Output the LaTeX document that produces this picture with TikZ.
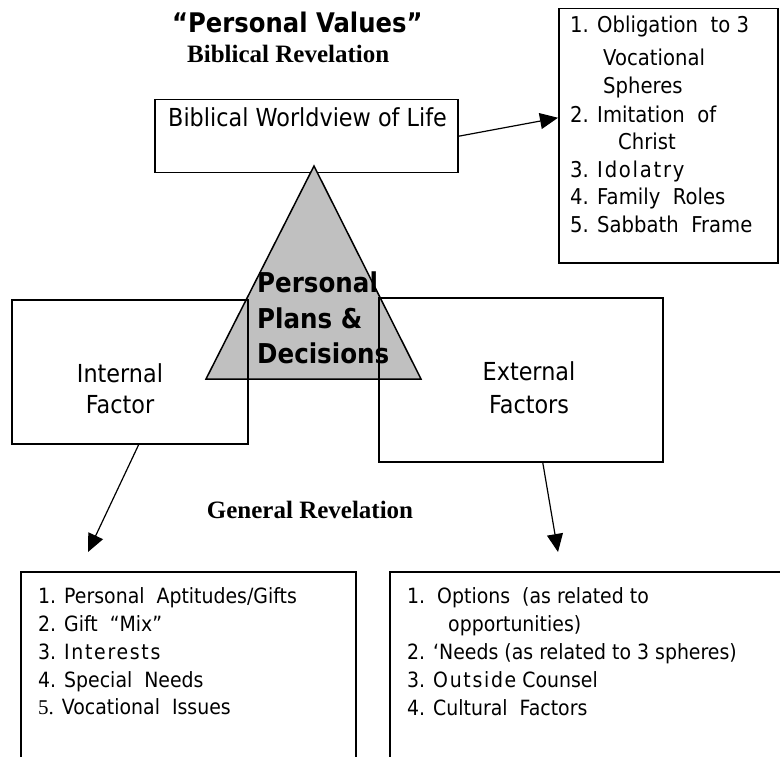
\documentclass[tikz,border=0pt]{standalone}
\usepackage{fontspec}
\setmainfont{DejaVu Sans}[FakeStretch=0.9]
\newfontfamily\serifb{Liberation Serif}
\newfontfamily\spaced{DejaVu Sans}[FakeStretch=0.9, LetterSpace=8]
\usetikzlibrary{arrows.meta}
\definecolor{trigray}{HTML}{C0C0C0}
\begin{document}
\begin{tikzpicture}[x=1pt,y=-1pt,
  box/.style={draw, line width=1.5pt, inner sep=0pt, anchor=north west},
  ln/.style={anchor=base west, inner sep=0pt, font=\fontsize{21}{25}\selectfont},
  lnt/.style={anchor=base west, inner sep=0pt, font=\fontsize{21.8}{25}\selectfont},
  big/.style={inner sep=0pt, font=\fontsize{24.8}{30}\selectfont},
  tri/.style={anchor=base west, inner sep=0pt, font=\bfseries\fontsize{27.3}{34}\selectfont},
  rev/.style={inner sep=0pt, font=\serifb\bfseries\fontsize{25}{30}\selectfont},
  arr/.style={line width=1.2pt, -{Triangle[length=18pt,width=16pt]}}]
\useasboundingbox (0,0) rectangle (780,757);
% title
\node[anchor=base west, inner sep=0pt, font=\bfseries\fontsize{27}{32}\selectfont] (title) at (172,33) {“Personal Values”};
\node[rev, anchor=base west] (brev) at (187,63) {Biblical Revelation};
% biblical worldview box
\node[box, fill=white, minimum width=303pt, minimum height=73pt] (bw) at (154,99) {};
\node[big, anchor=base west] (bwt) at (168,127) {Biblical Worldview of Life};
% triangle
\draw[fill=trigray, line width=1.5pt, line join=miter] (314,166) coordinate (tA) -- (421,379) coordinate (tB) -- (206,379) coordinate (tC) -- cycle;
% factor boxes
\node[box, minimum width=236pt, minimum height=144pt] (int) at (11,299) {};
\node[box, minimum width=284pt, minimum height=164pt] (ext) at (378,297) {};
\node[big, anchor=base] (int1) at (120,382) {Internal};
\node[big, anchor=base] (int2) at (120,413) {Factor};
\node[big, anchor=base] (ext1) at (529,380) {External};
\node[big, anchor=base] (ext2) at (529,413) {Factors};
% triangle text
\node[tri] (p1) at (257,292) {Personal};
\node[tri] (p2) at (257,328) {Plans \&};
\node[tri] (p3) at (257,363) {Decisions};
% top right list
\node[box, minimum width=219pt, minimum height=254pt] (tr) at (558,8) {};
\node[lnt] (t1) at (570,33) {1. Obligation\ \ to 3};
\node[lnt] (t2) at (603,66) {Vocational};
\node[lnt] (t3) at (603,94) {Spheres};
\node[lnt] (t4) at (570,123) {2. Imitation\ \ of};
\node[lnt] (t5) at (618,150) {Christ};
\node[lnt] (t6) at (570,178) {3. {\spaced Idolatry}};
\node[lnt] (t7) at (570,205) {4. Family\ \ Roles};
\node[lnt] (t8) at (570,233) {5. Sabbath\ \ Frame};
% general revelation
\node[rev, anchor=base] (grev) at (310,518) {General Revelation};
% bottom boxes (open at the bottom / right)
\draw[line width=1.5pt] (21,760) -- (21,572) -- (356,572) -- (356,760);
\draw[line width=1.5pt] (390,760) -- (390,572) -- (782,572);
\node[ln] (l1) at (38,603) {1. Personal\ \ Aptitudes/Gifts};
\node[ln] (l2) at (38,631) {2. Gift\ \ “Mix”};
\node[ln] (l3) at (38,659) {3. {\spaced Interests}};
\node[ln] (l4) at (38,687) {4. Special\ \ Needs};
\node[ln] (l5) at (38,714) {{\serifb 5.} Vocational\ \ Issues};
\node[ln] (r1) at (407,603) {1.\ \ Options\ \ (as related to};
\node[ln] (r2) at (448,631) {opportunities)};
\node[ln] (r3) at (407,659) {2. ‘Needs (as related to 3 spheres)};
\node[ln] (r4) at (407,687) {3. {\spaced Outside} Counsel};
\node[ln] (r5) at (407,715) {4. Cultural\ \ Factors};
% connectors
\coordinate (ltip) at (88,552);
\coordinate (rtip) at (558,552);
\draw[arr] (bw.east) -- ([yshift=18pt]tr.west);
\draw[arr] ([xshift=9pt]int.south) -- (ltip);
\draw[arr] ([xshift=22pt]ext.south) -- (rtip);
\end{tikzpicture}
\end{document}
